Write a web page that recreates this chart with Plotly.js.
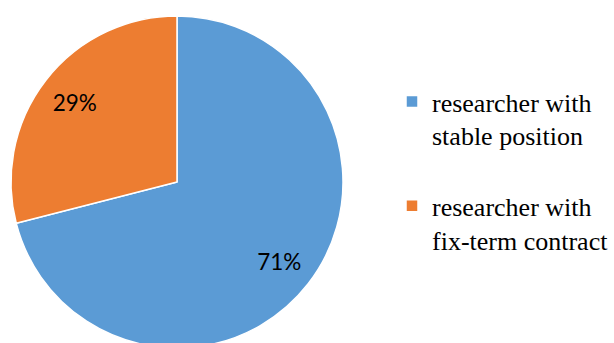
<!DOCTYPE html>
<html>
<head>
<meta charset="utf-8">
<script src="https://cdn.plot.ly/plotly-3.0.1.min.js"></script>
<style>
  html, body { margin: 0; padding: 0; width: 614px; height: 343px; overflow: hidden; background: #ffffff; }
  #chart { width: 614px; height: 352px; }
</style>
</head>
<body>
<div id="chart"></div>
<script>
// Share of researchers by contract type
const categories = [
  'researcher with<br>stable position<br>&nbsp;',
  'researcher with<br>fix-term contract'
];
const shares = [71, 29];
const sliceColors = ['#5B9BD5', '#ED7D31'];

const W = 614, H = 352;
const pieDomain = { x: [11 / W, 343 / W], y: [4 / H, 336 / H] };

// Filled slices
const slices = {
  type: 'pie',
  labels: categories,
  values: shares,
  sort: false,
  direction: 'clockwise',
  rotation: 0,
  marker: { colors: sliceColors, line: { color: '#ffffff', width: 1.5 } },
  textinfo: 'none',
  hoverinfo: 'none',
  domain: pieDomain
};

// Transparent ring on top that carries the percentage labels toward the rim
const labelRing = {
  type: 'pie',
  labels: categories,
  values: shares,
  sort: false,
  direction: 'clockwise',
  rotation: 0,
  hole: 0.56,
  marker: { colors: ['rgba(0,0,0,0)', 'rgba(0,0,0,0)'], line: { width: 0 } },
  texttemplate: '%{percent:.0%}',
  textposition: 'inside',
  insidetextorientation: 'horizontal',
  textfont: { family: 'Lato, "Open Sans", sans-serif', size: 22.5, color: '#000000' },
  hoverinfo: 'none',
  showlegend: false,
  domain: pieDomain
};

const layout = {
  width: W,
  height: H,
  margin: { l: 0, r: 0, t: 0, b: 0 },
  paper_bgcolor: '#ffffff',
  showlegend: true,
  legend: {
    x: 392 / W,
    xanchor: 'left',
    y: 1 - 78 / H,
    yanchor: 'top',
    valign: 'top',
    font: { family: '"Liberation Serif", "Times New Roman", serif', size: 26, color: '#000000' },
    bgcolor: 'rgba(0,0,0,0)'
  }
};

Plotly.newPlot('chart', [slices, labelRing], layout, { staticPlot: true, displayModeBar: false });
</script>
</body>
</html>
